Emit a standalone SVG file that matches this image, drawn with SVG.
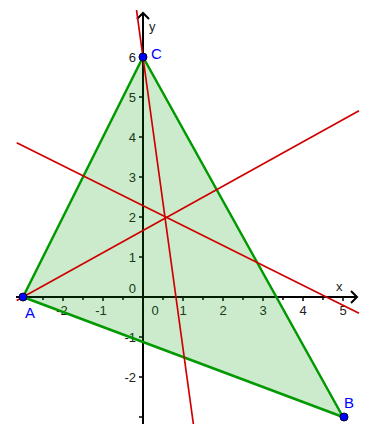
<svg xmlns="http://www.w3.org/2000/svg" width="369" height="424" viewBox="0 0 369 424">
<style>
.ax{stroke:#000;stroke-width:2;fill:none}
.tk{stroke:#000;stroke-width:1.5}
.num{font-family:"Liberation Sans",Arial,sans-serif;font-size:13px;fill:#222}
.lbl{font-family:"Liberation Sans",Arial,sans-serif;font-size:15px;fill:#0000ff}
.red{stroke:#d00000;stroke-width:1.7;fill:none}
.pt{fill:#0000ff;stroke:#000033;stroke-width:1}
</style>
<rect width="369" height="424" fill="#fff"/>
<g id="axes">
<line class="ax" x1="16" y1="297" x2="357" y2="297"/>
<polyline class="ax" points="351,291 357,297 351,303"/>
<line class="ax" x1="143" y1="424" x2="143" y2="13"/>
<polyline class="ax" points="137,19 143,13 149,19"/>
<g class="tk">
<line x1="43" y1="297" x2="43" y2="300"/><line x1="63" y1="297" x2="63" y2="301"/><line x1="83" y1="297" x2="83" y2="300"/><line x1="103" y1="297" x2="103" y2="301"/><line x1="123" y1="297" x2="123" y2="300"/>
<line x1="163" y1="297" x2="163" y2="300"/><line x1="183" y1="297" x2="183" y2="301"/><line x1="203" y1="297" x2="203" y2="300"/><line x1="223" y1="297" x2="223" y2="301"/><line x1="243" y1="297" x2="243" y2="300"/><line x1="263" y1="297" x2="263" y2="301"/><line x1="283" y1="297" x2="283" y2="300"/><line x1="303" y1="297" x2="303" y2="301"/><line x1="323" y1="297" x2="323" y2="300"/><line x1="343" y1="297" x2="343" y2="301"/>
<line x1="139" y1="57" x2="143" y2="57"/><line x1="139" y1="97" x2="143" y2="97"/><line x1="139" y1="137" x2="143" y2="137"/><line x1="139" y1="177" x2="143" y2="177"/><line x1="139" y1="217" x2="143" y2="217"/><line x1="139" y1="257" x2="143" y2="257"/><line x1="139" y1="337" x2="143" y2="337"/><line x1="139" y1="377" x2="143" y2="377"/><line x1="139" y1="417" x2="143" y2="417"/>
</g>
<g class="num" text-anchor="middle">
<text x="62" y="315">-2</text><text x="101" y="315">-1</text><text x="155" y="315">0</text><text x="183" y="315">1</text><text x="223" y="315">2</text><text x="263" y="315">3</text><text x="303" y="315">4</text><text x="343" y="315">5</text>
</g>
<g class="num" text-anchor="end">
<text x="136" y="62">6</text><text x="136" y="102">5</text><text x="136" y="142">4</text><text x="136" y="182">3</text><text x="136" y="222">2</text><text x="136" y="262">1</text><text x="136" y="293">0</text><text x="136" y="342">-1</text><text x="136" y="382">-2</text>
</g>
<text class="num" x="336" y="291">x</text>
<text class="num" x="149" y="31">y</text>
</g>
<g id="triangle">
<polygon points="23,297 143,57 343,417" fill="#009900" fill-opacity="0.2" stroke="#009900" stroke-width="2.5" stroke-linejoin="round"/>
</g>
<g id="connectors">
<line class="red" x1="136.5" y1="10" x2="193.4" y2="424"/>
<line class="red" x1="16.7" y1="142.7" x2="359" y2="313.3"/>
<line class="red" x1="16.7" y1="300.5" x2="359" y2="110.7"/>
</g>
<g id="A"><circle class="pt" cx="23" cy="297" r="4"/><text class="lbl" x="25" y="318">A</text></g>
<g id="B"><circle class="pt" cx="344" cy="417" r="4"/><text class="lbl" x="344" y="408">B</text></g>
<g id="C"><circle class="pt" cx="143" cy="57" r="4"/><text class="lbl" x="151" y="59">C</text></g>
</svg>
